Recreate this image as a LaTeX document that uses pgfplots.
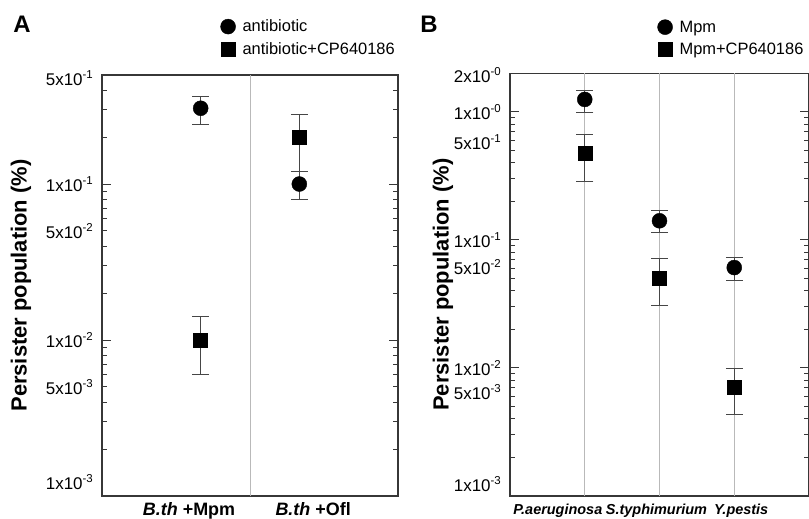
\documentclass[border=0pt]{standalone}
\usepackage{fontspec}
\setmainfont{Liberation Sans}
\usepackage{pgfplots}
\pgfplotsset{compat=1.18}
\definecolor{axgray}{RGB}{55,55,55}
\definecolor{gridgray}{RGB}{185,185,185}
\definecolor{errgray}{RGB}{70,70,70}

\pgfplotstableread{
x y ep em
1 0.306 0.057 0.065
2 0.100 0.021 0.020
}\Acirc
\pgfplotstableread{
x y ep em
1 0.0100 0.0041 0.0040
2 0.201 0.079 0.080
}\Asq
\pgfplotstableread{
x y ep em
1 1.25 0.22 0.26
2 0.141 0.028 0.026
3 0.0608 0.0119 0.0128
}\Bcirc
\pgfplotstableread{
x y ep em
1 0.475 0.19 0.188
2 0.0502 0.0209 0.0195
3 0.00706 0.0029 0.00275
}\Bsq

\pgfplotsset{
  every axis/.append style={
    scale only axis, xmin=0,
    axis line style={axgray, line width=1.4bp},
    tick style={axgray, line width=1bp},
    tick align=inside,
    major tick length=9bp, minor tick length=5bp,
    xtick style={draw=none},
    major grid style={gridgray, line width=1bp},
    legend style={draw=none, fill=none, font=\fontsize{16.5}{19}\selectfont,
      row sep=7bp, inner sep=0pt, nodes={inner xsep=7bp, inner ysep=1bp}},
    legend cell align=left,
  },
}

\newcommand{\ytl}{\fontsize{17}{18}\selectfont}
\newcommand{\sx}[1]{\raisebox{0.42em}{\fontsize{11.5}{11.5}\selectfont #1}}

\begin{document}
\begin{tikzpicture}
\useasboundingbox (0,0) rectangle (809bp,519bp);
\node[font=\bfseries\fontsize{24}{24}\selectfont] at (22bp,495bp) {A};
\node[font=\bfseries\fontsize{24}{24}\selectfont] at (429bp,495bp) {B};

\begin{axis}[
  ymode=log,
  at={(102bp,23bp)}, anchor=south west,
  width=296bp, height=421bp,
  xmax=3, ymin=0.001, ymax=0.5,
  ytick={0.001,0.01,0.1},
  yticklabels={,,},
  minor ytick={0.002,0.003,0.004,0.005,0.006,0.007,0.008,0.009,
               0.02,0.03,0.04,0.05,0.06,0.07,0.08,0.09,0.2,0.3,0.4},
  xtick={0.882,2.14},
  xticklabels={{\textbf{\textit{B.th}} \textbf{+Mpm}},{\textbf{\textit{B.th}} \textbf{+Ofl}}},
  xticklabel style={font=\fontsize{18}{20}\selectfont, yshift=-3bp},
  extra x ticks={1.5},
  extra x tick labels={},
  extra x tick style={grid=major},
  extra y ticks={0.478,0.1,0.05,0.01,0.005,0.00123},
  extra y tick labels={5x10\sx{-1},1x10\sx{-1},5x10\sx{-2},1x10\sx{-2},5x10\sx{-3},1x10\sx{-3}},
  extra y tick style={major tick length=0pt},
  yticklabel style={font=\ytl, inner sep=1bp, xshift=-8bp},
  ylabel={\bfseries Persister population (\%)},
  ylabel style={font=\fontsize{22}{24}\selectfont, at={(axis description cs:-0.274,0.5)}, anchor=center},
  legend style={at={(axis description cs:0.40,1.043)}, anchor=south west},
]
\addplot+[only marks, mark=*, mark size=7.5bp, black, mark options={fill=black},
  error bars/.cd, y dir=both, y explicit,
  error bar style={errgray, line width=1bp},
  error mark options={rotate=90, mark size=8.5bp, errgray, line width=1bp}]
  table[x=x, y=y, y error plus=ep, y error minus=em] {\Acirc};
\addlegendentry{antibiotic}
\addplot+[only marks, mark=square*, mark size=7bp, black, mark options={fill=black},
  error bars/.cd, y dir=both, y explicit,
  error bar style={errgray, line width=1bp},
  error mark options={rotate=90, mark size=8.5bp, errgray, line width=1bp}]
  table[x=x, y=y, y error plus=ep, y error minus=em] {\Asq};
\addlegendentry{antibiotic+CP640186}
\end{axis}

\begin{axis}[
  ymode=log,
  at={(510bp,23bp)}, anchor=south west,
  width=299bp, height=422.7bp,
  xmax=4, ymin=0.001, ymax=2,
  ytick={0.001,0.01,0.1,1},
  yticklabels={,,,},
  minor ytick={0.002,0.003,0.004,0.005,0.006,0.007,0.008,0.009,
               0.02,0.03,0.04,0.05,0.06,0.07,0.08,0.09,
               0.2,0.3,0.4,0.5,0.6,0.7,0.8,0.9},
  xtick={0.64,1.96,3.093},
  xticklabels={\textbf{\textit{P.aeruginosa}},\textbf{\textit{S.typhimurium}},\textbf{\textit{Y.pestis}}},
  xticklabel style={font=\fontsize{14.5}{16}\selectfont, yshift=-5bp},
  extra x ticks={1,2,3},
  extra x tick labels={},
  extra x tick style={grid=major},
  extra y ticks={1.95,1,0.58,0.1,0.0615,0.01,0.0065,0.00124},
  extra y tick labels={2x10\sx{-0},1x10\sx{-0},5x10\sx{-1},1x10\sx{-1},5x10\sx{-2},1x10\sx{-2},5x10\sx{-3},1x10\sx{-3}},
  extra y tick style={major tick length=0pt},
  yticklabel style={font=\ytl, inner sep=1bp, xshift=-8bp},
  ylabel={\bfseries Persister population (\%)},
  ylabel style={font=\fontsize{22}{24}\selectfont, at={(axis description cs:-0.224,0.5)}, anchor=center},
  legend style={at={(axis description cs:0.493,1.039)}, anchor=south west},
]
\addplot+[only marks, mark=*, mark size=7.5bp, black, mark options={fill=black},
  error bars/.cd, y dir=both, y explicit,
  error bar style={errgray, line width=1bp},
  error mark options={rotate=90, mark size=8.5bp, errgray, line width=1bp}]
  table[x=x, y=y, y error plus=ep, y error minus=em] {\Bcirc};
\addlegendentry{Mpm}
\addplot+[only marks, mark=square*, mark size=7bp, black, mark options={fill=black},
  error bars/.cd, y dir=both, y explicit,
  error bar style={errgray, line width=1bp},
  error mark options={rotate=90, mark size=8.5bp, errgray, line width=1bp}]
  table[x=x, y=y, y error plus=ep, y error minus=em] {\Bsq};
\addlegendentry{Mpm+CP640186}
\end{axis}
\end{tikzpicture}
\end{document}
